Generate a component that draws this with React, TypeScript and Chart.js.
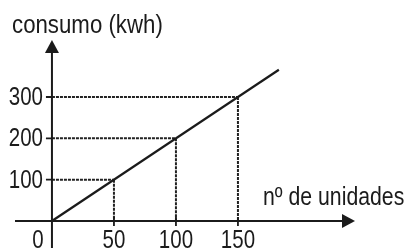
import React, { useEffect, useRef } from "react";
import { Chart, registerables } from "chart.js";

Chart.register(...registerables);

// data
const lineX = [0, 183];
const lineY = [0, 366];
const guideX = [50, 100, 150];
const guideY = [100, 200, 300];
const xTickLabels = ["50", "100", "150"];
const yTickLabels = ["100", "200", "300"];
const xAxisTitle = "nº de unidades";
const yAxisTitle = "consumo (kwh)";
const originLabel = "0";

const INK = "#1b1b1b";
const FONT = "25px 'Liberation Sans', Arial, sans-serif";

function narrowText(ctx: CanvasRenderingContext2D, text: string, x: number, y: number, align: "left" | "right" | "center", baseline: CanvasTextBaseline, squeeze = 0.82) {
  ctx.save();
  ctx.font = FONT;
  ctx.fillStyle = INK;
  ctx.textBaseline = baseline;
  ctx.textAlign = align;
  ctx.translate(x, y);
  ctx.scale(squeeze, 1);
  ctx.fillText(text, 0, 0);
  ctx.restore();
}

const axesPlugin = {
  id: "customAxes",
  beforeDatasetsDraw(chart: any) {
    const ctx: CanvasRenderingContext2D = chart.ctx;
    const xs = chart.scales.x;
    const ys = chart.scales.y;
    const area = chart.chartArea;
    const ox = xs.getPixelForValue(0);
    const oy = ys.getPixelForValue(0);

    // dashed guides
    ctx.save();
    ctx.strokeStyle = "#222";
    ctx.lineWidth = 2;
    ctx.setLineDash([3, 1]);
    guideX.forEach((gx, i) => {
      const px = xs.getPixelForValue(gx);
      const py = ys.getPixelForValue(guideY[i]);
      ctx.beginPath();
      ctx.moveTo(ox, py);
      ctx.lineTo(px, py);
      ctx.stroke();
      ctx.beginPath();
      ctx.moveTo(px, py);
      ctx.lineTo(px, oy);
      ctx.stroke();
    });
    ctx.restore();

    // axes
    ctx.save();
    ctx.strokeStyle = INK;
    ctx.fillStyle = INK;
    ctx.lineWidth = 2;
    ctx.beginPath();
    ctx.moveTo(area.left, oy);
    ctx.lineTo(area.right - 8, oy);
    ctx.moveTo(ox, area.bottom);
    ctx.lineTo(ox, area.top + 8);
    ctx.stroke();
    // arrows
    ctx.beginPath();
    ctx.moveTo(area.right, oy);
    ctx.lineTo(area.right - 13, oy - 7);
    ctx.lineTo(area.right - 13, oy + 7);
    ctx.closePath();
    ctx.fill();
    ctx.beginPath();
    ctx.moveTo(ox, area.top);
    ctx.lineTo(ox - 7, area.top + 13);
    ctx.lineTo(ox + 7, area.top + 13);
    ctx.closePath();
    ctx.fill();

    // ticks
    ctx.lineWidth = 1.8;
    ctx.beginPath();
    guideY.forEach((gy) => {
      const py = ys.getPixelForValue(gy);
      ctx.moveTo(ox - 6, py);
      ctx.lineTo(ox, py);
    });
    guideX.forEach((gx) => {
      const px = xs.getPixelForValue(gx);
      ctx.moveTo(px, oy - 4);
      ctx.lineTo(px, oy + 5);
    });
    ctx.stroke();

    // labels
    guideY.forEach((gy, i) => {
      narrowText(ctx, yTickLabels[i], ox - 9, ys.getPixelForValue(gy) + 1, "right", "middle");
    });
    guideX.forEach((gx, i) => {
      narrowText(ctx, xTickLabels[i], xs.getPixelForValue(gx), oy + 27, "center", "alphabetic");
    });
    narrowText(ctx, originLabel, ox - 14, oy + 27, "center", "alphabetic");
    narrowText(ctx, xAxisTitle, 263, oy - 16, "left", "alphabetic", 0.85);
    narrowText(ctx, yAxisTitle, 12, 33, "left", "alphabetic", 0.89);
    ctx.restore();
  },
};

export default function App() {
  const ref = useRef<HTMLCanvasElement>(null);
  useEffect(() => {
    document.body.style.margin = "0";
    const chart = new Chart(ref.current!, {
      type: "line",
      data: {
        datasets: [
          {
            data: lineX.map((x, i) => ({ x, y: lineY[i] })),
            borderColor: INK,
            borderWidth: 2.2,
            pointRadius: 0,
            fill: false,
            tension: 0,
          },
        ],
      },
      options: {
        animation: false,
        responsive: false,
        devicePixelRatio: 1,
        layout: { padding: { left: 15, right: 54, top: 40, bottom: 3 } },
        plugins: { legend: { display: false }, tooltip: { enabled: false } },
        scales: {
          x: { type: "linear", display: false, min: -29.8, max: 244.4 },
          y: { type: "linear", display: false, min: -65.3, max: 437.9 },
        },
      },
      plugins: [axesPlugin],
    });
    return () => chart.destroy();
  }, []);
  return (
    <div style={{ position: "fixed", left: 0, top: 0, width: 409, height: 251, background: "#fff" }}>
      <canvas ref={ref} width={409} height={251} />
    </div>
  );
}
